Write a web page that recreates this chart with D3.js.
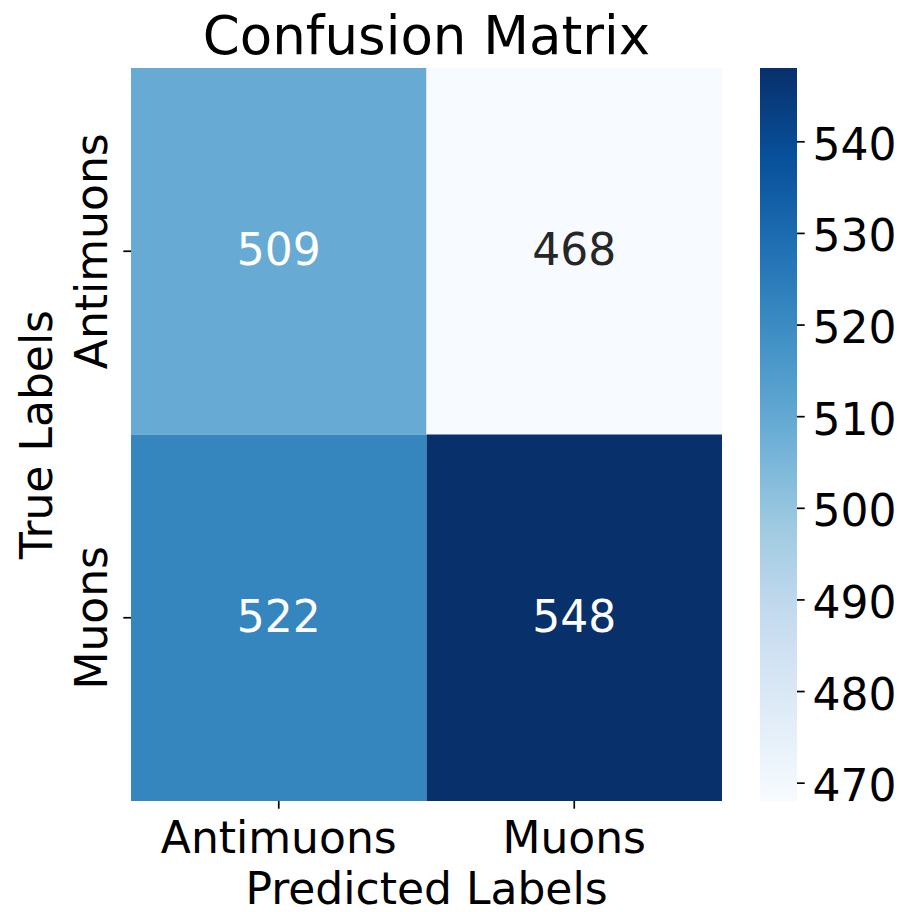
<!DOCTYPE html>
<html lang="en">
<head>
    <meta charset="utf-8">
    <title>Confusion Matrix</title>
    <script src="https://d3js.org/d3.v7.min.js"></script>
    <style type="text/css">
        body {
          margin: 0;
          background: #fff;
        }
        svg text {
          font-family: "DejaVu Sans", sans-serif;
        }
    </style>
</head>
<body>
    <script type="text/javascript">

        // data
        var predicted = ["Antimuons", "Muons"];
        var actual = ["Antimuons", "Muons"];
        var counts = [
            [509, 468],
            [522, 548]
        ];
        var cbarTicks = [470, 480, 490, 500, 510, 520, 530, 540];
        var blues = ["#f7fbff", "#deebf7", "#c6dbef", "#9ecae1", "#6baed6",
                     "#4292c6", "#2171b5", "#08519c", "#08306b"];

        var w = 899, h = 912;
        // note: "top" is taken by window.top, so plot edges get a prefix
        var pLeft = 131, pRight = 722, pTop = 68, pBottom = 801;
        var tick = 7.7, pad = 7.7;

        var svg = d3.select("body")
            .append("svg")
            .attr("width", w)
            .attr("height", h);

        var cells = [];
        actual.forEach(function(r, i) {
            predicted.forEach(function(c, j) {
                cells.push({row: r, col: c, value: counts[i][j]});
            });
        });

        var vmin = d3.min(cells, function(d) { return d.value; });
        var vmax = d3.max(cells, function(d) { return d.value; });

        // matplotlib Blues: linear segments between the 9 brewer colours
        var cmap = d3.scaleLinear()
            .domain(d3.range(blues.length).map(function(i) { return i / (blues.length - 1); }))
            .range(blues)
            .interpolate(d3.interpolateRgb);
        var norm = d3.scaleLinear().domain([vmin, vmax]).range([0, 1]);

        // relative luminance, same rule seaborn uses to pick the text colour
        function luminance(col) {
            var c = d3.rgb(col);
            var lin = [c.r, c.g, c.b].map(function(v) {
                v = v / 255;
                return v <= 0.03928 ? v / 12.92 : Math.pow((v + 0.055) / 1.055, 2.4);
            });
            return 0.2126 * lin[0] + 0.7152 * lin[1] + 0.0722 * lin[2];
        }

        var x = d3.scaleBand().domain(predicted).range([pLeft, pRight]);
        var y = d3.scaleBand().domain(actual).range([pTop, pBottom]);

        svg.selectAll("rect.cell")
            .data(cells)
            .enter()
            .append("rect")
            .attr("class", "cell")
            .attr("x", function(d) { return x(d.col); })
            .attr("y", function(d) { return y(d.row); })
            .attr("width", x.bandwidth())
            .attr("height", y.bandwidth())
            .attr("fill", function(d) { return cmap(norm(d.value)); });

        svg.selectAll("text.annot")
            .data(cells)
            .enter()
            .append("text")
            .attr("class", "annot")
            .attr("x", function(d) { return x(d.col) + x.bandwidth() / 2; })
            .attr("y", function(d) { return y(d.row) + y.bandwidth() / 2 + 14; })
            .attr("text-anchor", "middle")
            .attr("font-size", "44px")
            .attr("fill", function(d) {
                return luminance(cmap(norm(d.value))) > 0.408 ? "#262626" : "#ffffff";
            })
            .text(function(d) { return d.value; });

        // x axis
        var xAxis = svg.append("g")
            .attr("transform", "translate(0," + pBottom + ")")
            .call(d3.axisBottom(x).tickSize(tick).tickPadding(pad));
        xAxis.select(".domain").remove();
        xAxis.selectAll("line").attr("stroke", "#000").attr("stroke-width", 1.7);
        xAxis.selectAll("text")
            .attr("font-size", "44px")
            .attr("font-family", "DejaVu Sans")
            .attr("fill", "#000")
            .attr("y", 52)
            .attr("dy", 0);

        // y axis, labels rotated
        var yAxis = svg.append("g")
            .attr("transform", "translate(" + pLeft + ",0)")
            .call(d3.axisLeft(y).tickSize(tick).tickPadding(pad));
        yAxis.select(".domain").remove();
        yAxis.selectAll("line").attr("stroke", "#000").attr("stroke-width", 1.7);
        yAxis.selectAll("text")
            .attr("font-size", "44px")
            .attr("font-family", "DejaVu Sans")
            .attr("fill", "#000")
            .attr("text-anchor", "middle")
            .attr("transform", "rotate(-90)")
            .attr("x", 0)
            .attr("y", -24)
            .attr("dy", 0);

        // titles
        svg.append("text")
            .attr("x", (pLeft + pRight) / 2)
            .attr("y", 54)
            .attr("text-anchor", "middle")
            .attr("font-size", "53px")
            .text("Confusion Matrix");

        svg.append("text")
            .attr("x", (pLeft + pRight) / 2)
            .attr("y", 904)
            .attr("text-anchor", "middle")
            .attr("font-size", "44px")
            .text("Predicted Labels");

        svg.append("text")
            .attr("transform", "translate(52," + (pTop + pBottom) / 2 + ") rotate(-90)")
            .attr("text-anchor", "middle")
            .attr("font-size", "44px")
            .text("True Labels");

        // colorbar
        var cbX = 760, cbW = 37;
        var cb = d3.scaleLinear().domain([vmin, vmax]).range([pBottom, pTop]);

        var grad = svg.append("defs")
            .append("linearGradient")
            .attr("id", "cbgrad")
            .attr("x1", 0).attr("y1", 1)
            .attr("x2", 0).attr("y2", 0);
        grad.selectAll("stop")
            .data(blues)
            .enter()
            .append("stop")
            .attr("offset", function(d, i) { return i / (blues.length - 1); })
            .attr("stop-color", function(d) { return d; });

        svg.append("rect")
            .attr("x", cbX)
            .attr("y", pTop)
            .attr("width", cbW)
            .attr("height", pBottom - pTop)
            .attr("fill", "url(#cbgrad)");

        var cAxis = svg.append("g")
            .attr("transform", "translate(" + (cbX + cbW) + ",0)")
            .call(d3.axisRight(cb).tickValues(cbarTicks).tickSize(tick).tickPadding(pad));
        cAxis.select(".domain").remove();
        cAxis.selectAll("line").attr("stroke", "#000").attr("stroke-width", 1.7);
        cAxis.selectAll("text")
            .attr("font-size", "44px")
            .attr("font-family", "DejaVu Sans")
            .attr("fill", "#000")
            .attr("dy", 18);

    </script>
</body>
</html>
